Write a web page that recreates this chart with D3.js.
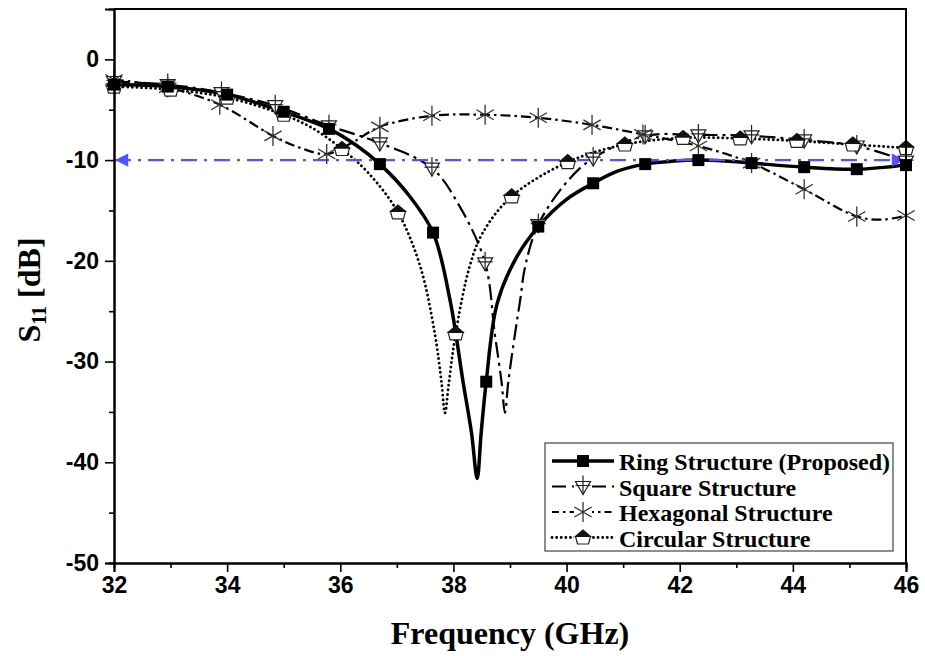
<!DOCTYPE html>
<html>
<head>
<meta charset="utf-8">
<script src="https://cdn.jsdelivr.net/npm/d3@7/dist/d3.min.js"></script>
<style>
  html, body { margin: 0; padding: 0; background: #fff; }
  #chart { width: 925px; height: 656px; }
</style>
</head>
<body>
<div id="chart"></div>
<script>
// ---- data (frequency in GHz, S11 in dB) ----
const ringF = [32, 32.95, 34.0, 35.0, 35.8, 36.3, 36.7, 37.2, 37.64, 37.94, 38.17, 38.32, 38.42, 38.49, 38.58, 38.77, 39.1, 39.5, 40.0, 40.47, 40.9, 41.39, 41.9, 42.33, 42.8, 43.27, 44.2, 45.13, 46];
const ringV = [-2.5, -2.7, -3.5, -5.2, -6.9, -8.6, -10.4, -13.4, -17.2, -23.9, -32, -37.1, -41.6, -37.1, -32, -24.3, -19.8, -16.6, -13.9, -12.3, -11.1, -10.4, -10.1, -10.0, -10.1, -10.3, -10.7, -10.9, -10.5];
const ringMarks = [32, 32.95, 34.0, 35.0, 35.8, 36.7, 37.64, 38.58, 39.5, 40.47, 41.39, 42.33, 43.27, 44.2, 45.13, 46];

const squareF = [32, 32.95, 33.9, 34.85, 35.8, 36.7, 37.62, 38.1, 38.56, 38.73, 38.85, 38.91, 38.97, 39.09, 39.18, 39.27, 39.5, 40.0, 40.47, 41.39, 42.33, 43.27, 44.2, 45.13, 46];
const squareV = [-2.2, -2.5, -3.3, -4.6, -6.6, -8.3, -10.8, -14.5, -20.2, -27.2, -32, -35.1, -32, -27.2, -23.9, -20.5, -16.4, -12.2, -9.8, -7.6, -7.5, -7.6, -8.0, -8.6, -10.1];
const squareMarks = [32, 32.95, 33.9, 34.85, 35.8, 36.7, 37.62, 38.56, 39.5, 40.47, 41.39, 42.33, 43.27, 44.2, 45.13, 46];

const hexF = [32, 32.95, 33.87, 34.81, 35.3, 35.76, 36.2, 36.7, 37.62, 38.56, 39.5, 40.45, 41.35, 42.33, 43.27, 44.2, 45.13, 45.6, 46];
const hexV = [-2.0, -2.8, -4.5, -7.6, -8.8, -9.4, -8.3, -6.7, -5.6, -5.5, -5.8, -6.5, -7.45, -8.6, -10.3, -12.9, -15.6, -15.9, -15.5];
const hexMarks = [32, 32.95, 33.87, 34.81, 35.76, 36.7, 37.62, 38.56, 39.5, 40.45, 41.35, 42.33, 43.27, 44.2, 45.13, 46];

const circF = [32, 33, 34, 35, 35.5, 36.03, 36.5, 37.02, 37.41, 37.67, 37.79, 37.85, 37.92, 38.04, 38.29, 38.52, 39.03, 40.02, 41.03, 42.06, 43.07, 44.07, 45.06, 46];
const circV = [-2.7, -3.0, -3.8, -5.5, -6.8, -8.9, -11.3, -15.2, -20.5, -27.2, -32.1, -35.1, -32.1, -27.2, -20.5, -17.2, -13.6, -10.2, -8.45, -7.8, -7.85, -8.1, -8.45, -8.8];
const circMarks = [32, 33, 34, 35, 36.03, 37.02, 38.04, 39.03, 40.02, 41.03, 42.06, 43.07, 44.07, 45.06, 46];

const seriesNames = ['Ring Structure (Proposed)', 'Square Structure', 'Hexagonal Structure', 'Circular Structure'];
const xTicks = [32, 34, 36, 38, 40, 42, 44, 46];
const yTicks = [-50, -40, -30, -20, -10, 0];
const refLevel = -10;

// ---- layout ----
const width = 925, height = 656;
const box = { left: 114, top: 9, right: 906, bottom: 563 };

const svg = d3.select('#chart')
    .append('svg')
    .attr('width', width)
    .attr('height', height);

const x = d3.scaleLinear().domain([32, 46]).range([box.left, box.right]);
const y = d3.scaleLinear().domain([-50, 5]).range([box.bottom, box.top]);

// markers
function squareMark (g, c) {
    g.append('rect').attr('x', -6).attr('y', -6).attr('width', 12).attr('height', 12).attr('fill', c);
}
function triMark (g) {
    g.append('path').attr('d', 'M-7.5,-5 L7.5,-5 L0,8 Z').attr('fill', '#fff').attr('stroke', '#222').attr('stroke-width', 1.2);
    g.append('path').attr('d', 'M0,-11 L0,8 M-7.5,-1 L7.5,-1').attr('stroke', '#222').attr('stroke-width', 1.2);
}
function starMark (g) {
    const r = 10;
    let d = 'M0,' + (-r) + ' L0,' + r;
    [30, 150].forEach((a) => {
        const dx = r * Math.cos(a * Math.PI / 180), dy = r * Math.sin(a * Math.PI / 180);
        d += ' M' + (-dx) + ',' + (-dy) + ' L' + dx + ',' + dy;
    });
    g.append('path').attr('d', d).attr('stroke', '#333').attr('stroke-width', 1.3).attr('fill', 'none');
}
function pentMark (g) {
    // house-like pentagon, roof filled
    g.append('path').attr('d', 'M-7.5,-1 L7.5,-1 L5.5,6.5 L-5.5,6.5 Z').attr('fill', '#fff').attr('stroke', '#222').attr('stroke-width', 1.2);
    g.append('path').attr('d', 'M-7.5,-1 L0,-7.5 L7.5,-1 Z').attr('fill', '#111').attr('stroke', '#111').attr('stroke-width', 1.2);
}

const series = [
    { f: squareF, v: squareV, marks: squareMarks, dash: '16,5,3,5', legDash: '14,6', w: 2.2, draw: triMark },
    { f: hexF, v: hexV, marks: hexMarks, dash: '10,4,2.5,4', legDash: '7,4,2.5,4', w: 2.2, draw: starMark },
    { f: circF, v: circV, marks: circMarks, dash: '0.1,4.5', legDash: '0.1,4.5', w: 2.8, draw: pentMark, cap: 'round' },
    { f: ringF, v: ringV, marks: ringMarks, dash: null, legDash: null, w: 3.5, draw: (g) => squareMark(g, '#000') }
];

const line = d3.line()
    .x((d) => x(d[0]))
    .y((d) => y(d[1]))
    .curve(d3.curveCatmullRom.alpha(0.5));

const plot = svg.append('g');

// arrow head for the -10 dB line
const blue = '#5252ff';
const defs = svg.append('defs');
defs.append('marker').attr('id', 'arr').attr('viewBox', '0 0 10 10')
    .attr('refX', 10).attr('refY', 5).attr('markerWidth', 7).attr('markerHeight', 6)
    .attr('markerUnits', 'strokeWidth').attr('orient', 'auto-start-reverse')
    .append('path').attr('d', 'M0,0 L10,5 L0,10 Z').attr('fill', blue);

// curves
series.forEach((s) => {
    const pts = s.f.map((f, i) => [f, s.v[i]]);
    plot.append('path')
        .datum(pts)
        .attr('d', line)
        .attr('fill', 'none')
        .attr('stroke', '#000')
        .attr('stroke-width', s.w)
        .attr('stroke-linecap', s.cap || 'butt')
        .attr('stroke-dasharray', s.dash);
});

plot.append('line')
    .attr('x1', x(32) + 1).attr('x2', x(46) - 1)
    .attr('y1', y(refLevel)).attr('y2', y(refLevel))
    .attr('stroke', blue).attr('stroke-width', 2.2)
    .attr('stroke-dasharray', '16,7,3,7')
    .attr('marker-start', 'url(#arr)')
    .attr('marker-end', 'url(#arr)');

// symbols
series.forEach((s) => {
    s.marks.forEach((m) => {
        const i = s.f.indexOf(m);
        const g = plot.append('g').attr('transform', `translate(${x(s.f[i])},${y(s.v[i])})`);
        s.draw(g);
    });
});

// axes
const tickFont = 'bold 23px "Liberation Sans", Arial, sans-serif';
svg.append('g')
    .attr('transform', `translate(${box.left},0)`)
    .call(d3.axisLeft(y).tickValues(yTicks).tickSize(9).tickPadding(6).tickFormat((d) => String(d)));
svg.append('g')
    .attr('transform', `translate(${box.left},0)`)
    .call(d3.axisLeft(y).tickValues([-45, -35, -25, -15, -5]).tickSize(5).tickFormat(''));

svg.append('g')
    .attr('transform', `translate(0,${box.bottom})`)
    .call(d3.axisBottom(x).tickValues(xTicks).tickSize(9).tickPadding(5).tickFormat((d) => String(d)));
svg.append('g')
    .attr('transform', `translate(0,${box.bottom})`)
    .call(d3.axisBottom(x).tickValues([33, 35, 37, 39, 41, 43, 45]).tickSize(5).tickFormat(''));

svg.selectAll('.domain').attr('stroke', '#000').attr('stroke-width', 2);
svg.selectAll('.tick line').attr('stroke', '#000').attr('stroke-width', 1.6);
svg.selectAll('.tick text').style('font', tickFont).attr('fill', '#000');

// top and right frame
svg.append('path')
    .attr('d', `M${box.left},${box.top} L${box.right},${box.top} L${box.right},${box.bottom}`)
    .attr('fill', 'none').attr('stroke', '#000').attr('stroke-width', 2);

// axis titles
const titleFont = 'bold 32px "Liberation Serif", "Times New Roman", serif';
svg.append('text')
    .attr('x', 510)
    .attr('y', 644)
    .attr('text-anchor', 'middle')
    .style('font', titleFont)
    .text('Frequency (GHz)');

const yt = svg.append('text')
    .attr('transform', 'translate(40,290) rotate(-90)')
    .attr('text-anchor', 'middle')
    .style('font', titleFont);
yt.append('tspan').text('S');
yt.append('tspan').style('font-size', '20px').attr('dy', 6).text('11');
yt.append('tspan').attr('dy', -6).text(' [dB]');

// legend
const leg = svg.append('g');
leg.append('rect')
    .attr('x', 545).attr('y', 443).attr('width', 348).attr('height', 108)
    .attr('fill', '#fff').attr('stroke', '#444').attr('stroke-width', 1.2);
const legOrder = [3, 0, 1, 2];
legOrder.forEach((si, k) => {
    const s = series[si];
    const ly = 461 + k * 25.5;
    leg.append('line')
        .attr('x1', 552).attr('x2', 614).attr('y1', ly).attr('y2', ly)
        .attr('stroke', '#000').attr('stroke-width', s.w)
        .attr('stroke-linecap', s.cap || 'butt')
        .attr('stroke-dasharray', s.legDash);
    const g = leg.append('g').attr('transform', `translate(583,${ly})`);
    if (si !== 3) g.append('rect').attr('x', -9).attr('y', -10).attr('width', 18).attr('height', 19).attr('fill', '#fff');
    s.draw(g);
    leg.append('text')
        .attr('x', 619).attr('y', ly + 1)
        .attr('dominant-baseline', 'central')
        .style('font', 'bold 24px "Liberation Serif", "Times New Roman", serif')
        .text(seriesNames[si === 3 ? 0 : si + 1]);
});
</script>
</body>
</html>
